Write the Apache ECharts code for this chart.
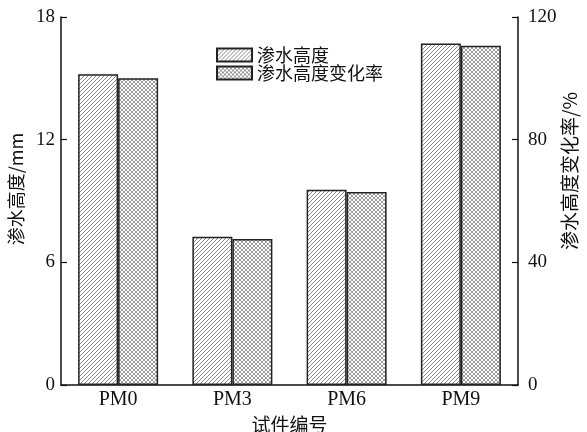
<!DOCTYPE html>
<html>
<head>
<meta charset="utf-8">
<script src="https://cdn.jsdelivr.net/npm/echarts@6/dist/echarts.min.js"></script>
<style>html,body{margin:0;padding:0;background:#fff}#c{width:587px;height:432px}</style>
</head>
<body>
<div id="c"></div>
<script>
const categories = ['PM0', 'PM3', 'PM6', 'PM9'];
const seepHeight = [15.2, 7.25, 9.55, 16.7];
const changeRate = [100, 47.6, 62.9, 110.6];
const leftTicks = [0, 18, 6];   // min, max, interval
const rightTicks = [0, 120, 40];
const seriesNames = ['渗水高度', '渗水高度变化率'];

function makePattern(size, color, draw) {
  const c = document.createElement('canvas');
  c.width = size; c.height = size;
  const g = c.getContext('2d');
  g.fillStyle = '#fff';
  g.fillRect(0, 0, size, size);
  g.strokeStyle = color;
  g.lineWidth = 1;
  draw(g, size);
  return { image: c, repeat: 'repeat' };
}
const diag = makePattern(4, '#8a8a8a', (g, s) => {
  g.beginPath();
  g.moveTo(-1, s + 1); g.lineTo(s + 1, -1);
  g.moveTo(-1, 1); g.lineTo(1, -1);
  g.moveTo(s - 1, s + 1); g.lineTo(s + 1, s - 1);
  g.stroke();
});
const cross = makePattern(4, '#9a9a9a', (g, s) => {
  g.beginPath();
  g.moveTo(-1, s + 1); g.lineTo(s + 1, -1);
  g.moveTo(-1, -1); g.lineTo(s + 1, s + 1);
  g.moveTo(-1, 1); g.lineTo(1, -1);
  g.moveTo(s - 1, s + 1); g.lineTo(s + 1, s - 1);
  g.moveTo(s - 1, -1); g.lineTo(s + 1, 1);
  g.moveTo(-1, s - 1); g.lineTo(1, s + 1);
  g.stroke();
});

const serif = 'Liberation Serif';
const cjk = 'Noto Sans CJK SC';
const axisLine = { show: true, lineStyle: { color: '#111', width: 1.5 } };
const tick = { show: true, inside: true, length: 6, lineStyle: { color: '#111', width: 1.2 } };

const chart = echarts.init(document.getElementById('c'), null, { renderer: 'canvas' });
chart.setOption({
  animation: false,
  backgroundColor: '#fff',
  grid: { left: 61, right: 69, top: 17, bottom: 47, containLabel: false, outerBoundsMode: 'none' },
  legend: {
    orient: 'vertical',
    left: 211, top: 41,
    icon: 'rect',
    itemWidth: 35, itemHeight: 13, itemGap: 0,
    textStyle: { fontFamily: cjk, fontSize: 18, lineHeight: 17, color: '#111' },
    data: seriesNames
  },
  xAxis: {
    type: 'category',
    data: categories,
    axisLine: axisLine,
    axisTick: { show: false },
    axisLabel: { fontFamily: serif, fontSize: 20, color: '#111', margin: 5 },
    name: '试件编号',
    nameLocation: 'middle',
    nameGap: 26,
    nameTextStyle: { fontFamily: cjk, fontSize: 19, color: '#111' }
  },
  yAxis: [{
    type: 'value',
    min: leftTicks[0], max: leftTicks[1], interval: leftTicks[2],
    axisLine: axisLine,
    axisTick: tick,
    axisLabel: { fontFamily: serif, fontSize: 19, color: '#111', margin: 6 },
    splitLine: { show: false },
    name: '渗水高度/mm',
    nameLocation: 'middle',
    nameRotate: 90,
    nameGap: 34,
    nameTextStyle: { fontFamily: cjk, fontSize: 18, color: '#111', padding: [0, 0, 0, 24] }
  }, {
    type: 'value',
    position: 'right',
    min: rightTicks[0], max: rightTicks[1], interval: rightTicks[2],
    axisLine: axisLine,
    axisTick: tick,
    axisLabel: { fontFamily: serif, fontSize: 19, color: '#111', margin: 10 },
    splitLine: { show: false },
    name: '渗水高度变化率/%',
    nameLocation: 'middle',
    nameRotate: 90,
    nameGap: 42,
    nameMoveOverlap: false,
    nameTextStyle: { fontFamily: cjk, fontSize: 19, color: '#111', padding: [0, 0, 0, 60] }
  }],
  series: [{
    name: seriesNames[0],
    type: 'bar',
    yAxisIndex: 0,
    data: seepHeight,
    barWidth: 40,
    barGap: '0%',
    itemStyle: { color: diag, borderColor: '#222', borderWidth: 1.5 }
  }, {
    name: seriesNames[1],
    type: 'bar',
    yAxisIndex: 1,
    data: changeRate,
    barWidth: 40,
    barGap: '0%',
    itemStyle: { color: cross, borderColor: '#222', borderWidth: 1.5 }
  }]
});
</script>
</body>
</html>
